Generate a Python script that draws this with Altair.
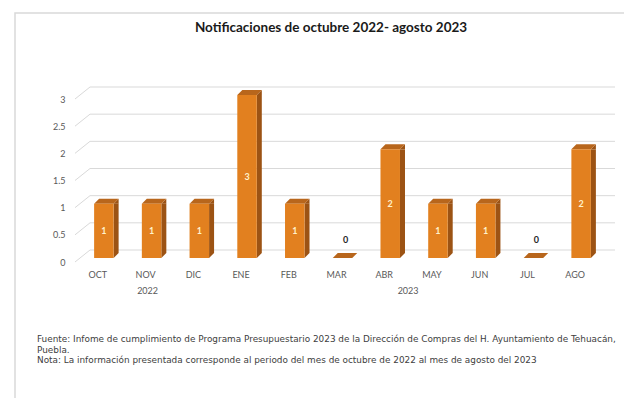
import altair as alt
import pandas as pd

# ---- data ----
months = ["OCT", "NOV", "DIC", "ENE", "FEB", "MAR", "ABR", "MAY", "JUN", "JUL", "AGO"]
values = [1, 1, 1, 3, 1, 0, 2, 1, 1, 0, 2]
year_labels = ["2022", "2023"]
year_anchor_months = ["NOV", "ABR"]
grid_values = [0, 0.5, 1, 1.5, 2, 2.5, 3]
title_text = "Notificaciones de octubre 2022- agosto 2023"
footnote_lines = [
    "Fuente: Infome de cumplimiento de Programa Presupuestario 2023 de la Dirección de Compras del H. Ayuntamiento de Tehuacán,",
    "Puebla.",
    "Nota: La información presentada corresponde al periodo del mes de octubre de 2022 al mes de agosto del 2023",
]

# ---- styling ----
W, H = 525, 163
STEP = W / len(months)
BAR_W = 19.5
DEPTH = 5
FRONT = "#E2801F"
SIDE = "#9C5314"
TOP = "#B8661C"
GRID = "#D9D9D9"
LABEL = "#595959"
FONT = "Lato"

df = pd.DataFrame({"mes": months, "valor": values})
df["etiqueta"] = df["valor"].astype(str)
df["base"] = 0
df["mid"] = df["valor"] / 2
grid_df = pd.DataFrame({"g": grid_values})
year_df = pd.DataFrame({"anio": year_labels, "mes": year_anchor_months})

pad_inner = 1 - BAR_W / STEP
xscale = alt.Scale(domain=months, paddingInner=pad_inner, paddingOuter=pad_inner / 2)
yscale = alt.Scale(domain=[0, 3])

xaxis = alt.Axis(title=None, labelAngle=0, ticks=False, domain=False,
                 labelPadding=12, labelOffset=-6, labelColor=LABEL,
                 labelFontSize=9, labelFont=FONT, grid=False, zindex=1)
yaxis = alt.Axis(title=None, values=grid_values, format="~g", ticks=False,
                 domain=False, grid=False, labelPadding=15, labelOffset=4,
                 labelColor=LABEL, labelFontSize=9, labelFont=FONT, zindex=1)


def X():
    return alt.X("mes:N", sort=months, scale=xscale, axis=xaxis)


def Y(field):
    return alt.Y(field, scale=yscale, axis=yaxis, title=None)


base = alt.Chart(df)
pos = base.transform_filter("datum.valor > 0")

frame = alt.Chart(pd.DataFrame({"k": [0]})).mark_rect(
    fill="transparent", stroke="#D9D9D9", strokeWidth=1.5
).encode(x=alt.value(-65), x2=alt.value(600), y=alt.value(-82), y2=alt.value(400))

grid_h = alt.Chart(grid_df).mark_rule(color=GRID, strokeWidth=1, yOffset=-8).encode(
    x=alt.value(10), x2=alt.value(535), y=Y("g:Q")
)
grid_s = alt.Chart(grid_df).mark_rule(color=GRID, strokeWidth=1, yOffset=4, y2Offset=-8).encode(
    x=alt.value(-5), x2=alt.value(10), y=Y("g:Q"), y2="g:Q"
)

side = pos.mark_bar(color=SIDE, width=DEPTH, xOffset=BAR_W / 2 + DEPTH / 2,
                    y2Offset=-DEPTH).encode(x=X(), y=Y("valor:Q"), y2="base:Q")
tri_top = pos.mark_point(shape="M -1 1 L 1 -1 L 1 1 Z", size=DEPTH * DEPTH, filled=True,
                         opacity=1, color=SIDE, strokeWidth=0,
                         xOffset=BAR_W / 2 + DEPTH / 2, yOffset=-DEPTH / 2).encode(
    x=X(), y=Y("valor:Q"))
tri_bot = pos.mark_point(shape="M -1 -1 L 1 -1 L -1 1 Z", size=DEPTH * DEPTH, filled=True,
                         opacity=1, color=SIDE, strokeWidth=0,
                         xOffset=BAR_W / 2 + DEPTH / 2, yOffset=-DEPTH / 2).encode(
    x=X(), y=Y("base:Q"))

tw = BAR_W + DEPTH
u = tw / 2
a = (BAR_W - tw / 2) / u
b = (DEPTH / 2) / u
top_path = f"M -1 {b:.4f} L {a:.4f} {b:.4f} L 1 {-b:.4f} L {-a:.4f} {-b:.4f} Z"
top = base.mark_point(shape=top_path, size=tw * tw, filled=True, opacity=1, color=TOP,
                      strokeWidth=0, xOffset=DEPTH / 2, yOffset=-DEPTH / 2).encode(
    x=X(), y=Y("valor:Q"))

front = base.mark_bar(color=FRONT).encode(x=X(), y=Y("valor:Q"))

inner = pos.mark_text(color="#FFF2CC", fontSize=9, fontWeight="bold", font=FONT).encode(
    x=X(), y=Y("mid:Q"), text="etiqueta:N")

zero = base.transform_filter("datum.valor == 0").mark_text(
    color="#262626", fontSize=9, fontWeight="bold", font=FONT, dy=-18, dx=3
).encode(x=X(), y=Y("valor:Q"), text="etiqueta:N")

year22 = alt.Chart(year_df).transform_filter("datum.anio == '2022'").mark_text(
    color=LABEL, fontSize=9, font=FONT, dx=-4).encode(
    x=X(), y=alt.value(196), text="anio:N")
year23 = alt.Chart(year_df).transform_filter("datum.anio == '2023'").mark_text(
    color=LABEL, fontSize=9, font=FONT, dx=STEP / 2 - 6).encode(
    x=X(), y=alt.value(196), text="anio:N")

title = alt.Chart(pd.DataFrame({"t": [title_text]})).mark_text(
    fontSize=13.5, fontWeight="bold", font=FONT, color="#1A1A1A", baseline="middle"
).encode(x=alt.value(251), y=alt.value(-67), text="t:N")

notes_df = pd.DataFrame({"n": [footnote_lines]})
notes = alt.Chart(notes_df).mark_text(
    fontSize=8.9, font="DejaVu Sans", color="#404040", align="left", baseline="middle",
    lineHeight=10.5
).encode(x=alt.value(-43), y=alt.value(244), text="n")

chart = alt.layer(
    frame, grid_h, grid_s, side, tri_top, tri_bot, top, front, inner, zero, year22, year23,
    title, notes
).properties(
    width=W, height=H,
    padding={"left": 72, "top": 87, "right": 19, "bottom": 140},
    autosize=alt.AutoSizeParams(type="none"),
    background="white",
).configure_view(stroke=None)

chart.save("out.html", embed_options={"renderer": "svg", "actions": False})
